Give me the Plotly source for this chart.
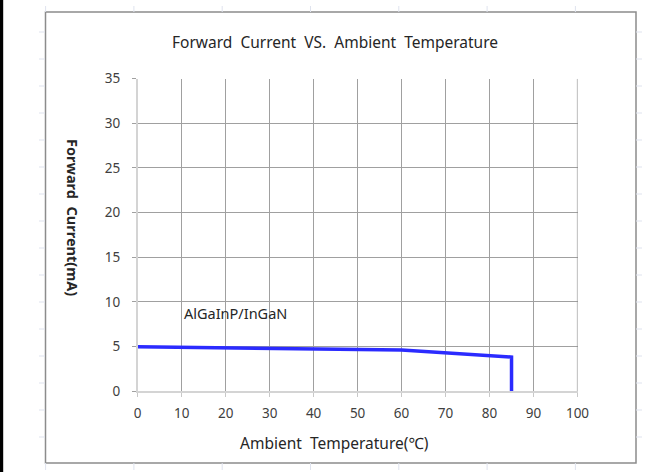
import plotly.graph_objects as go

# ---- data ----
temperature = [0, 60, 85, 85]
forward_current = [4.95, 4.6, 3.8, 0]
x_ticks = [0, 10, 20, 30, 40, 50, 60, 70, 80, 90, 100]
y_ticks = [0, 5, 10, 15, 20, 25, 30, 35]
series_label = "AlGaInP/InGaN"
chart_title = "Forward\u00a0\u00a0Current\u00a0\u00a0VS.\u00a0\u00a0Ambient\u00a0\u00a0Temperature"
x_title = "Ambient\u00a0\u00a0Temperature(\u2103)"
y_title = "Forward\u00a0\u00a0Current(mA)"

W, H = 665, 472
FONT = "Noto Sans"

def px(x):
    return x / W

def py(y):
    return 1 - y / H

fig = go.Figure()
fig.add_trace(go.Scatter(
    x=temperature, y=forward_current, mode="lines",
    line=dict(color="#2b2bff", width=3.5), showlegend=False,
    hoverinfo="skip",
))

plot_l, plot_r, plot_t, plot_b = 137.7, 577.5, 78.7, 391.0

grid_col = "#a0a0a0"
fig.update_xaxes(
    range=[0, 100], tickvals=x_ticks, domain=[px(plot_l), px(plot_r)],
    showgrid=True, gridcolor=grid_col, gridwidth=1,
    showline=True, linecolor="#d4d4d4", linewidth=1.5, mirror=False,
    zeroline=False, ticks="outside", ticklen=4, tickcolor="#c8c8c8",
    tickfont=dict(family=FONT, size=13.5, color="#404040"),
    ticklabelstandoff=5, automargin=False, fixedrange=True,
)
fig.update_yaxes(
    range=[0, 35], tickvals=y_ticks, domain=[py(plot_b), py(plot_t)],
    showgrid=True, gridcolor=grid_col, gridwidth=1,
    showline=True, linecolor="#d4d4d4", linewidth=1.5,
    zeroline=False, ticks="outside", ticklen=4, tickcolor=grid_col,
    tickfont=dict(family=FONT, size=13.5, color="#404040"),
    ticklabelstandoff=9, automargin=False, fixedrange=True,
)

shapes = []
# right border of plot area at x=100
shapes.append(dict(type="line", xref="x", yref="y", x0=100, x1=100, y0=0, y1=35,
                   line=dict(color="#909090", width=1.2), layer="above"))
# chart frame
shapes.append(dict(type="rect", xref="paper", yref="paper",
                   x0=px(45.5), x1=px(636), y0=py(12), y1=py(463),
                   line=dict(color="#8c8c8c", width=1.5), layer="below"))
# black bar at left edge
shapes.append(dict(type="line", xref="paper", yref="paper",
                   x0=px(1.6), x1=px(1.6), y0=-0.01, y1=1.01,
                   line=dict(color="#000000", width=3.2), layer="above"))
# faint spreadsheet cell lines outside the frame
cell_col = "#dfe3ee"
col_x = [45.6 + 88.3 * k for k in range(7)]
row_y = [5 + 27 * k for k in range(1, 18)]
for cx in col_x:
    shapes.append(dict(type="line", xref="paper", yref="paper",
                       x0=px(cx), x1=px(cx), y0=py(6), y1=py(12),
                       line=dict(color=cell_col, width=1)))
    shapes.append(dict(type="line", xref="paper", yref="paper",
                       x0=px(cx), x1=px(cx), y0=py(463), y1=py(470),
                       line=dict(color=cell_col, width=1)))
for ry in row_y:
    if 12 < ry < 463:
        shapes.append(dict(type="line", xref="paper", yref="paper",
                           x0=px(39), x1=px(45), y0=py(ry), y1=py(ry),
                           line=dict(color=cell_col, width=1)))
        shapes.append(dict(type="line", xref="paper", yref="paper",
                           x0=px(636), x1=px(642), y0=py(ry), y1=py(ry),
                           line=dict(color=cell_col, width=1)))

annotations = [
    dict(text=chart_title, xref="paper", yref="paper", x=px(335), y=py(42),
         showarrow=False, font=dict(family=FONT, size=15.5, color="#262626"),
         xanchor="center", yanchor="middle"),
    dict(text=x_title, xref="paper", yref="paper", x=px(334), y=py(443),
         showarrow=False, font=dict(family=FONT, size=15.5, color="#262626"),
         xanchor="center", yanchor="middle"),
    dict(text="<b>" + y_title + "</b>", xref="paper", yref="paper", x=px(73), y=py(217),
         showarrow=False, textangle=90, font=dict(family=FONT, size=14.5, color="#262626"),
         xanchor="center", yanchor="middle"),
    dict(text=series_label, xref="paper", yref="paper", x=px(235), y=py(313),
         showarrow=False, font=dict(family=FONT, size=14.5, color="#262626"),
         xanchor="center", yanchor="middle"),
]

fig.update_layout(
    width=W, height=H, margin=dict(l=0, r=0, t=0, b=0),
    paper_bgcolor="white", plot_bgcolor="white",
    shapes=shapes, annotations=annotations, showlegend=False,
)

fig.write_html("out.html", config={"displayModeBar": False},
               post_script="document.body.style.margin='0';document.body.style.padding='0';")
